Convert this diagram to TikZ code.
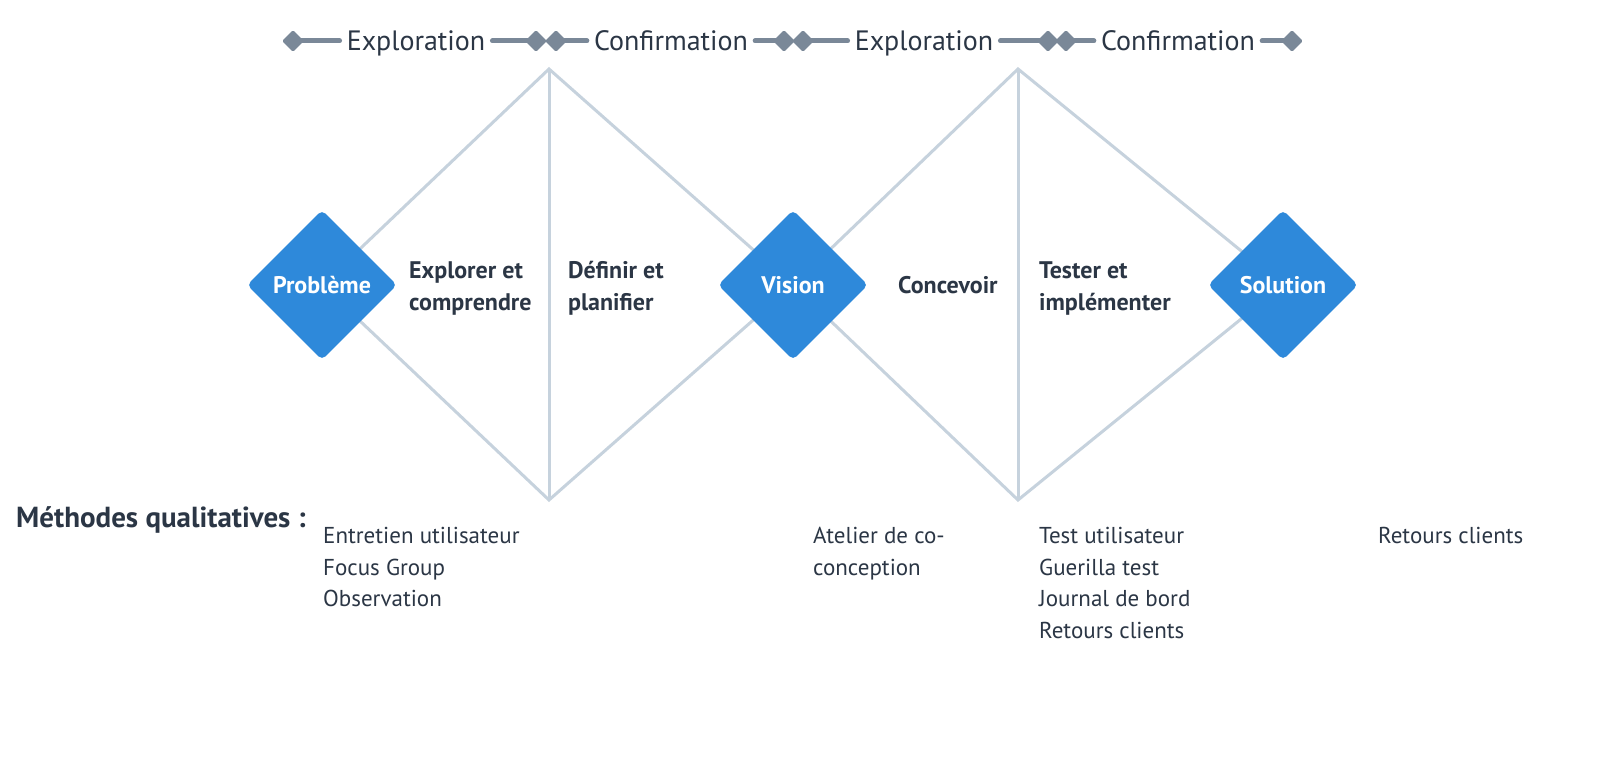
\documentclass[tikz,border=0pt]{standalone}
\usepackage{fontspec}
\setmainfont{PT Sans}
\usetikzlibrary{shapes.geometric,backgrounds}
\definecolor{bar}{HTML}{7A8898}
\definecolor{ink}{HTML}{2B3645}
\definecolor{dblue}{HTML}{2E89DA}
\definecolor{thin}{HTML}{C6D2DD}
\begin{document}
\begin{tikzpicture}[x=1pt,y=-1pt,
 bigdia/.style={diamond, fill=dblue, minimum width=150pt, minimum height=150pt, inner sep=0pt, rounded corners=5pt, text=white, font=\fontsize{24}{28}\selectfont\bfseries},
 smalldia/.style={diamond, fill=bar, minimum width=22pt, minimum height=22pt, inner sep=0pt, rounded corners=1.5pt},
 bartext/.style={text=ink, font=\fontsize{28}{32}\selectfont, inner xsep=7pt, inner ysep=0pt, anchor=base},
 barline/.style={draw=bar, line width=5pt, line cap=round},
 frame/.style={draw=thin, line width=3pt},
 phase/.style={text=ink, font=\fontsize{24}{32}\selectfont\bfseries, align=left, inner sep=0pt},
 method/.style={text=ink, font=\fontsize{23}{31.6}\selectfont, align=left, anchor=north west, inner sep=0pt}]
\begin{scope}[on background layer]
\fill[white] (0,0) rectangle (1600,781);
\end{scope}
\useasboundingbox (0,0) rectangle (1600,781);

% main diamonds
\node[bigdia] (prob) at (322,285) {Problème};
\node[bigdia] (vis) at (793,285) {Vision};
\node[bigdia] (sol) at (1283,285) {Solution};

\coordinate (a1) at (549,69);
\coordinate (b1) at (549,500);
\coordinate (a2) at (1018,69);
\coordinate (b2) at (1018,500);

\begin{scope}[on background layer]
\draw[frame] (prob.center) -- (a1) -- (vis.center) -- (b1) -- (prob.center);
\draw[frame] (a1) -- (b1);
\draw[frame] (vis.center) -- (a2) -- (sol.center) -- (b2) -- (vis.center);
\draw[frame] (a2) -- (b2);
\end{scope}

% phase labels
\node[phase, anchor=north west] (p1) at (409,261) {Explorer et\\comprendre};
\node[phase, anchor=north west] (p2) at (568,261) {Définir et\\planifier};
\node[phase, anchor=west] (p3) at (898,285) {Concevoir};
\node[phase, anchor=north west] (p4) at (1039,261) {Tester et\\implémenter};

% top bar
\node[smalldia] (d1) at (293,41) {};
\node[bartext] (t1) at (416,51) {Exploration};
\node[smalldia] (d2) at (536,41) {};
\node[smalldia] (d3) at (556,41) {};
\node[bartext] (t2) at (671,51) {Confirmation};
\node[smalldia] (d4) at (784,41) {};
\node[smalldia] (d5) at (803,41) {};
\node[bartext] (t3) at (924,51) {Exploration};
\node[smalldia] (d6) at (1048,41) {};
\node[smalldia] (d7) at (1066,41) {};
\node[bartext] (t4) at (1178,51) {Confirmation};
\node[smalldia] (d8) at (1292,41) {};
\begin{scope}[on background layer]
\draw[barline] (d1.center) -- (d1.center -| t1.west);
\draw[barline] (d2.center -| t1.east) -- (d2.center);
\draw[barline] (d3.center) -- (d3.center -| t2.west);
\draw[barline] (d4.center -| t2.east) -- (d4.center);
\draw[barline] (d5.center) -- (d5.center -| t3.west);
\draw[barline] (d6.center -| t3.east) -- (d6.center);
\draw[barline] (d7.center) -- (d7.center -| t4.west);
\draw[barline] (d8.center -| t4.east) -- (d8.center);
\end{scope}

% methods
\node[text=ink, font=\fontsize{29}{32}\selectfont\bfseries, anchor=west, inner sep=0pt] (mq) at (16,520) {Méthodes qualitatives :};
\node[method] (m1) at (323,527) {Entretien utilisateur\\Focus Group\\Observation};
\node[method] (m2) at (813,527) {Atelier de co-\\conception};
\node[method] (m3) at (1039,527) {Test utilisateur\\Guerilla test\\Journal de bord\\Retours clients};
\node[method] (m4) at (1378,527) {Retours clients};
\end{tikzpicture}
\end{document}
